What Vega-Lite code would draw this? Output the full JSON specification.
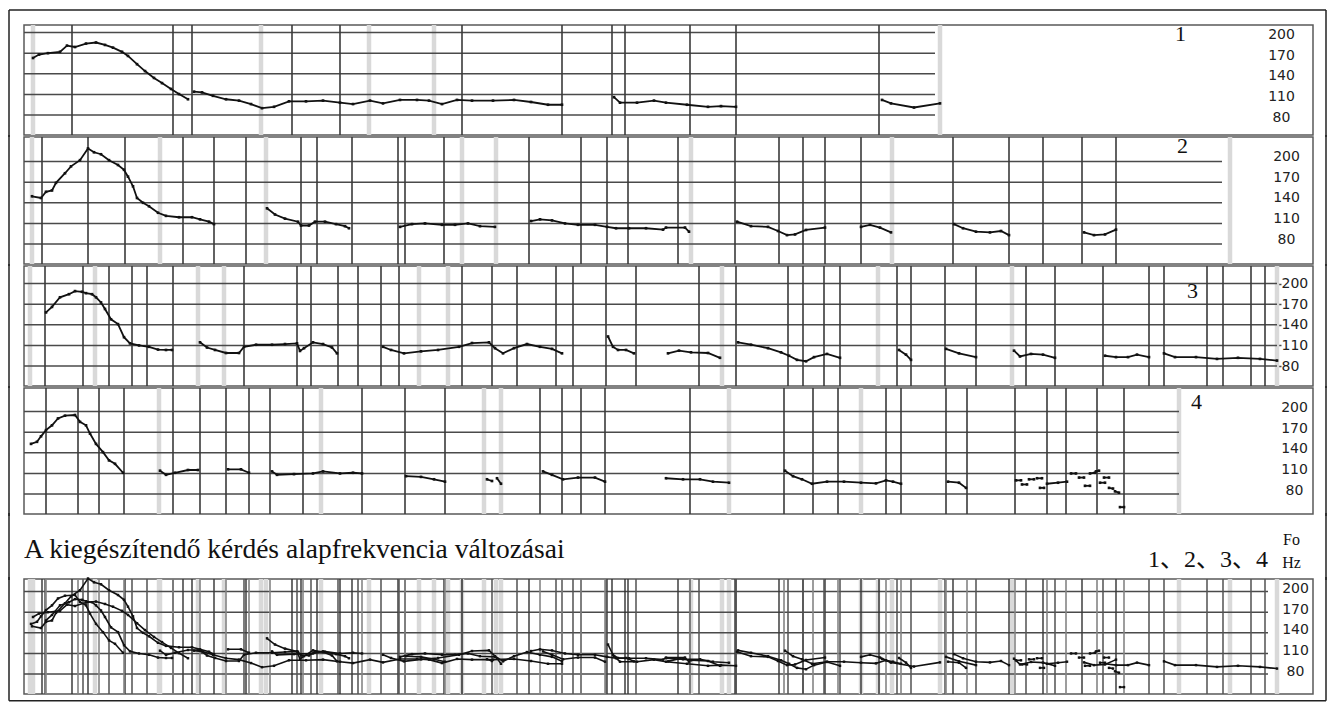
{
  "$schema": "https://vega.github.io/schema/vega-lite/v6.json",
  "background": "white",
  "padding": {"left": 7, "top": 8, "right": 0, "bottom": 0},
  "bounds": "flush",
  "spacing": 2,
  "config": {
    "view": {"stroke": "#5a5a5a", "strokeWidth": 1.5},
    "axis": {"domain": false, "grid": false, "ticks": false, "tickSize": 0, "tickCount": 10, "labelPadding": 0, "labelAlign": "center", "labelBaseline": "middle", "labelFont": "DejaVu Sans", "labelFontSize": 14, "labelColor": "#222", "labelOverlap": false, "titleFont": "Liberation Serif", "titleFontSize": 22, "titleFontWeight": "normal", "titleColor": "#111", "titleAngle": 0, "titleAlign": "center", "titleBaseline": "middle"}
  },
  "datasets": {
    "grid": [
      {"p": 1, "f": 80, "t0": 0, "t1": 911}, {"p": 1, "f": 110, "t0": 0, "t1": 911}, {"p": 1, "f": 140, "t0": 0, "t1": 911}, {"p": 1, "f": 170, "t0": 0, "t1": 911}, {"p": 1, "f": 200, "t0": 0, "t1": 911},
      {"p": 2, "f": 80, "t0": 0, "t1": 1198}, {"p": 2, "f": 110, "t0": 0, "t1": 1198}, {"p": 2, "f": 140, "t0": 0, "t1": 1198}, {"p": 2, "f": 170, "t0": 0, "t1": 1198}, {"p": 2, "f": 200, "t0": 0, "t1": 1198},
      {"p": 3, "f": 80, "t0": 0, "t1": 1253}, {"p": 3, "f": 110, "t0": 0, "t1": 1253}, {"p": 3, "f": 140, "t0": 0, "t1": 1253}, {"p": 3, "f": 170, "t0": 0, "t1": 1253}, {"p": 3, "f": 200, "t0": 0, "t1": 1253},
      {"p": 4, "f": 80, "t0": 0, "t1": 1155}, {"p": 4, "f": 110, "t0": 0, "t1": 1155}, {"p": 4, "f": 140, "t0": 0, "t1": 1155}, {"p": 4, "f": 170, "t0": 0, "t1": 1155}, {"p": 4, "f": 200, "t0": 0, "t1": 1155},
      {"p": 5, "f": 80, "t0": 0, "t1": 1244}, {"p": 5, "f": 110, "t0": 0, "t1": 1244}, {"p": 5, "f": 140, "t0": 0, "t1": 1244}, {"p": 5, "f": 170, "t0": 0, "t1": 1244}, {"p": 5, "f": 200, "t0": 0, "t1": 1244}
    ],
    "bounds": [
      {"p": 1, "k": "g", "t": 9}, {"p": 1, "k": "g", "t": 237}, {"p": 1, "k": "g", "t": 345}, {"p": 1, "k": "g", "t": 410}, {"p": 1, "k": "g", "t": 916},
      {"p": 1, "k": "b", "t": 48}, {"p": 1, "k": "b", "t": 149}, {"p": 1, "k": "b", "t": 168}, {"p": 1, "k": "b", "t": 268}, {"p": 1, "k": "b", "t": 316}, {"p": 1, "k": "b", "t": 438}, {"p": 1, "k": "b", "t": 538}, {"p": 1, "k": "b", "t": 588}, {"p": 1, "k": "b", "t": 601}, {"p": 1, "k": "b", "t": 666}, {"p": 1, "k": "b", "t": 712}, {"p": 1, "k": "b", "t": 855},
      {"p": 2, "k": "g", "t": 8}, {"p": 2, "k": "g", "t": 136}, {"p": 2, "k": "g", "t": 242}, {"p": 2, "k": "g", "t": 438}, {"p": 2, "k": "g", "t": 472}, {"p": 2, "k": "g", "t": 667}, {"p": 2, "k": "g", "t": 868}, {"p": 2, "k": "g", "t": 1206},
      {"p": 2, "k": "b", "t": 18}, {"p": 2, "k": "b", "t": 64}, {"p": 2, "k": "b", "t": 101}, {"p": 2, "k": "b", "t": 159}, {"p": 2, "k": "b", "t": 190}, {"p": 2, "k": "b", "t": 222}, {"p": 2, "k": "b", "t": 277}, {"p": 2, "k": "b", "t": 293}, {"p": 2, "k": "b", "t": 328}, {"p": 2, "k": "b", "t": 374}, {"p": 2, "k": "b", "t": 381}, {"p": 2, "k": "b", "t": 420}, {"p": 2, "k": "b", "t": 505}, {"p": 2, "k": "b", "t": 557}, {"p": 2, "k": "b", "t": 583}, {"p": 2, "k": "b", "t": 604}, {"p": 2, "k": "b", "t": 654}, {"p": 2, "k": "b", "t": 711}, {"p": 2, "k": "b", "t": 755}, {"p": 2, "k": "b", "t": 779}, {"p": 2, "k": "b", "t": 801}, {"p": 2, "k": "b", "t": 837}, {"p": 2, "k": "b", "t": 929}, {"p": 2, "k": "b", "t": 985}, {"p": 2, "k": "b", "t": 1019}, {"p": 2, "k": "b", "t": 1058}, {"p": 2, "k": "b", "t": 1092},
      {"p": 3, "k": "g", "t": 6}, {"p": 3, "k": "g", "t": 71}, {"p": 3, "k": "g", "t": 174}, {"p": 3, "k": "g", "t": 200}, {"p": 3, "k": "g", "t": 395}, {"p": 3, "k": "g", "t": 424}, {"p": 3, "k": "g", "t": 698}, {"p": 3, "k": "g", "t": 854}, {"p": 3, "k": "g", "t": 988}, {"p": 3, "k": "g", "t": 1253},
      {"p": 3, "k": "b", "t": 21}, {"p": 3, "k": "b", "t": 59}, {"p": 3, "k": "b", "t": 85}, {"p": 3, "k": "b", "t": 108}, {"p": 3, "k": "b", "t": 123}, {"p": 3, "k": "b", "t": 149}, {"p": 3, "k": "b", "t": 220}, {"p": 3, "k": "b", "t": 273}, {"p": 3, "k": "b", "t": 287}, {"p": 3, "k": "b", "t": 314}, {"p": 3, "k": "b", "t": 334}, {"p": 3, "k": "b", "t": 357}, {"p": 3, "k": "b", "t": 375}, {"p": 3, "k": "b", "t": 438}, {"p": 3, "k": "b", "t": 468}, {"p": 3, "k": "b", "t": 493}, {"p": 3, "k": "b", "t": 532}, {"p": 3, "k": "b", "t": 549}, {"p": 3, "k": "b", "t": 582}, {"p": 3, "k": "b", "t": 612}, {"p": 3, "k": "b", "t": 675}, {"p": 3, "k": "b", "t": 712}, {"p": 3, "k": "b", "t": 764}, {"p": 3, "k": "b", "t": 779}, {"p": 3, "k": "b", "t": 800}, {"p": 3, "k": "b", "t": 816}, {"p": 3, "k": "b", "t": 873}, {"p": 3, "k": "b", "t": 887}, {"p": 3, "k": "b", "t": 921}, {"p": 3, "k": "b", "t": 952}, {"p": 3, "k": "b", "t": 1002}, {"p": 3, "k": "b", "t": 1031}, {"p": 3, "k": "b", "t": 1079}, {"p": 3, "k": "b", "t": 1125}, {"p": 3, "k": "b", "t": 1140}, {"p": 3, "k": "b", "t": 1183}, {"p": 3, "k": "b", "t": 1199}, {"p": 3, "k": "b", "t": 1227}, {"p": 3, "k": "b", "t": 1241},
      {"p": 4, "k": "g", "t": 135}, {"p": 4, "k": "g", "t": 297}, {"p": 4, "k": "g", "t": 460}, {"p": 4, "k": "g", "t": 477}, {"p": 4, "k": "g", "t": 705}, {"p": 4, "k": "g", "t": 837}, {"p": 4, "k": "g", "t": 1155},
      {"p": 4, "k": "b", "t": 22}, {"p": 4, "k": "b", "t": 54}, {"p": 4, "k": "b", "t": 75}, {"p": 4, "k": "b", "t": 100}, {"p": 4, "k": "b", "t": 149}, {"p": 4, "k": "b", "t": 176}, {"p": 4, "k": "b", "t": 202}, {"p": 4, "k": "b", "t": 225}, {"p": 4, "k": "b", "t": 246}, {"p": 4, "k": "b", "t": 279}, {"p": 4, "k": "b", "t": 338}, {"p": 4, "k": "b", "t": 381}, {"p": 4, "k": "b", "t": 421}, {"p": 4, "k": "b", "t": 516}, {"p": 4, "k": "b", "t": 538}, {"p": 4, "k": "b", "t": 557}, {"p": 4, "k": "b", "t": 581}, {"p": 4, "k": "b", "t": 666}, {"p": 4, "k": "b", "t": 760}, {"p": 4, "k": "b", "t": 789}, {"p": 4, "k": "b", "t": 814}, {"p": 4, "k": "b", "t": 862}, {"p": 4, "k": "b", "t": 877}, {"p": 4, "k": "b", "t": 922}, {"p": 4, "k": "b", "t": 943}, {"p": 4, "k": "b", "t": 991}, {"p": 4, "k": "b", "t": 1023}, {"p": 4, "k": "b", "t": 1042}, {"p": 4, "k": "b", "t": 1073}, {"p": 4, "k": "b", "t": 1100}
    ],
    "contour": [
      {"p": 1, "s": "1a", "t": 9, "f": 163}, {"p": 1, "s": "1a", "t": 15, "f": 168}, {"p": 1, "s": "1a", "t": 24, "f": 170}, {"p": 1, "s": "1a", "t": 36, "f": 172}, {"p": 1, "s": "1a", "t": 43, "f": 181}, {"p": 1, "s": "1a", "t": 51, "f": 179}, {"p": 1, "s": "1a", "t": 62, "f": 184}, {"p": 1, "s": "1a", "t": 72, "f": 185.5}, {"p": 1, "s": "1a", "t": 81, "f": 182}, {"p": 1, "s": "1a", "t": 89, "f": 178}, {"p": 1, "s": "1a", "t": 98, "f": 172}, {"p": 1, "s": "1a", "t": 104, "f": 166}, {"p": 1, "s": "1a", "t": 113, "f": 154}, {"p": 1, "s": "1a", "t": 121, "f": 144}, {"p": 1, "s": "1a", "t": 130, "f": 134}, {"p": 1, "s": "1a", "t": 138, "f": 126.5}, {"p": 1, "s": "1a", "t": 147, "f": 118}, {"p": 1, "s": "1a", "t": 155, "f": 110.5}, {"p": 1, "s": "1a", "t": 164, "f": 103},
      {"p": 1, "s": "1b", "t": 170, "f": 114}, {"p": 1, "s": "1b", "t": 178, "f": 113}, {"p": 1, "s": "1b", "t": 189, "f": 108}, {"p": 1, "s": "1b", "t": 202, "f": 103}, {"p": 1, "s": "1b", "t": 215, "f": 101}, {"p": 1, "s": "1b", "t": 227, "f": 96}, {"p": 1, "s": "1b", "t": 238, "f": 90}, {"p": 1, "s": "1b", "t": 250, "f": 92}, {"p": 1, "s": "1b", "t": 265, "f": 100}, {"p": 1, "s": "1b", "t": 282, "f": 100}, {"p": 1, "s": "1b", "t": 299, "f": 101}, {"p": 1, "s": "1b", "t": 316, "f": 98}, {"p": 1, "s": "1b", "t": 329, "f": 96}, {"p": 1, "s": "1b", "t": 346, "f": 101}, {"p": 1, "s": "1b", "t": 359, "f": 97}, {"p": 1, "s": "1b", "t": 376, "f": 102}, {"p": 1, "s": "1b", "t": 393, "f": 102}, {"p": 1, "s": "1b", "t": 405, "f": 101}, {"p": 1, "s": "1b", "t": 418, "f": 96}, {"p": 1, "s": "1b", "t": 433, "f": 102}, {"p": 1, "s": "1b", "t": 448, "f": 101}, {"p": 1, "s": "1b", "t": 469, "f": 101}, {"p": 1, "s": "1b", "t": 490, "f": 102}, {"p": 1, "s": "1b", "t": 507, "f": 99}, {"p": 1, "s": "1b", "t": 524, "f": 95}, {"p": 1, "s": "1b", "t": 538, "f": 95},
      {"p": 1, "s": "1c", "t": 590, "f": 106}, {"p": 1, "s": "1c", "t": 596, "f": 98}, {"p": 1, "s": "1c", "t": 613, "f": 98}, {"p": 1, "s": "1c", "t": 630, "f": 101}, {"p": 1, "s": "1c", "t": 642, "f": 98}, {"p": 1, "s": "1c", "t": 663, "f": 95}, {"p": 1, "s": "1c", "t": 684, "f": 92}, {"p": 1, "s": "1c", "t": 697, "f": 93}, {"p": 1, "s": "1c", "t": 712, "f": 92},
      {"p": 1, "s": "1d", "t": 858, "f": 102}, {"p": 1, "s": "1d", "t": 867, "f": 97}, {"p": 1, "s": "1d", "t": 890, "f": 91}, {"p": 1, "s": "1d", "t": 916, "f": 97},
      {"p": 2, "s": "2a", "t": 8, "f": 149.5}, {"p": 2, "s": "2a", "t": 17, "f": 147}, {"p": 2, "s": "2a", "t": 22, "f": 156}, {"p": 2, "s": "2a", "t": 28, "f": 158}, {"p": 2, "s": "2a", "t": 32, "f": 169}, {"p": 2, "s": "2a", "t": 41, "f": 183}, {"p": 2, "s": "2a", "t": 47, "f": 193}, {"p": 2, "s": "2a", "t": 56, "f": 202}, {"p": 2, "s": "2a", "t": 64, "f": 219}, {"p": 2, "s": "2a", "t": 70, "f": 213.5}, {"p": 2, "s": "2a", "t": 77, "f": 210.6}, {"p": 2, "s": "2a", "t": 85, "f": 202}, {"p": 2, "s": "2a", "t": 94, "f": 195}, {"p": 2, "s": "2a", "t": 100, "f": 188}, {"p": 2, "s": "2a", "t": 104, "f": 178}, {"p": 2, "s": "2a", "t": 109, "f": 164}, {"p": 2, "s": "2a", "t": 113, "f": 147}, {"p": 2, "s": "2a", "t": 119, "f": 140}, {"p": 2, "s": "2a", "t": 125, "f": 135}, {"p": 2, "s": "2a", "t": 134, "f": 125.5}, {"p": 2, "s": "2a", "t": 142, "f": 121}, {"p": 2, "s": "2a", "t": 155, "f": 119}, {"p": 2, "s": "2a", "t": 168, "f": 119}, {"p": 2, "s": "2a", "t": 176, "f": 116}, {"p": 2, "s": "2a", "t": 185, "f": 112.5}, {"p": 2, "s": "2a", "t": 190, "f": 109},
      {"p": 2, "s": "2b", "t": 243, "f": 132}, {"p": 2, "s": "2b", "t": 251, "f": 123}, {"p": 2, "s": "2b", "t": 261, "f": 117}, {"p": 2, "s": "2b", "t": 274, "f": 112.5}, {"p": 2, "s": "2b", "t": 277, "f": 107}, {"p": 2, "s": "2b", "t": 285, "f": 107}, {"p": 2, "s": "2b", "t": 291, "f": 112.5}, {"p": 2, "s": "2b", "t": 301, "f": 112.5}, {"p": 2, "s": "2b", "t": 312, "f": 109}, {"p": 2, "s": "2b", "t": 321, "f": 106}, {"p": 2, "s": "2b", "t": 325, "f": 103},
      {"p": 2, "s": "2c", "t": 376, "f": 105}, {"p": 2, "s": "2c", "t": 388, "f": 109}, {"p": 2, "s": "2c", "t": 401, "f": 110}, {"p": 2, "s": "2c", "t": 418, "f": 108}, {"p": 2, "s": "2c", "t": 431, "f": 108}, {"p": 2, "s": "2c", "t": 444, "f": 110}, {"p": 2, "s": "2c", "t": 456, "f": 106}, {"p": 2, "s": "2c", "t": 471, "f": 105},
      {"p": 2, "s": "2d", "t": 507, "f": 113.5}, {"p": 2, "s": "2d", "t": 516, "f": 116}, {"p": 2, "s": "2d", "t": 528, "f": 114.4}, {"p": 2, "s": "2d", "t": 541, "f": 110}, {"p": 2, "s": "2d", "t": 554, "f": 108}, {"p": 2, "s": "2d", "t": 571, "f": 108}, {"p": 2, "s": "2d", "t": 583, "f": 105}, {"p": 2, "s": "2d", "t": 592, "f": 103}, {"p": 2, "s": "2d", "t": 605, "f": 103}, {"p": 2, "s": "2d", "t": 622, "f": 103}, {"p": 2, "s": "2d", "t": 639, "f": 101}, {"p": 2, "s": "2d", "t": 642, "f": 104}, {"p": 2, "s": "2d", "t": 661, "f": 104}, {"p": 2, "s": "2d", "t": 665, "f": 98},
      {"p": 2, "s": "2e", "t": 713, "f": 112.5}, {"p": 2, "s": "2e", "t": 727, "f": 106}, {"p": 2, "s": "2e", "t": 744, "f": 105}, {"p": 2, "s": "2e", "t": 754, "f": 99}, {"p": 2, "s": "2e", "t": 763, "f": 93}, {"p": 2, "s": "2e", "t": 771, "f": 94}, {"p": 2, "s": "2e", "t": 782, "f": 100.5}, {"p": 2, "s": "2e", "t": 801, "f": 104},
      {"p": 2, "s": "2f", "t": 837, "f": 105}, {"p": 2, "s": "2f", "t": 846, "f": 108}, {"p": 2, "s": "2f", "t": 856, "f": 104}, {"p": 2, "s": "2f", "t": 867, "f": 97},
      {"p": 2, "s": "2g", "t": 930, "f": 109}, {"p": 2, "s": "2g", "t": 939, "f": 103}, {"p": 2, "s": "2g", "t": 952, "f": 98}, {"p": 2, "s": "2g", "t": 966, "f": 97}, {"p": 2, "s": "2g", "t": 977, "f": 99}, {"p": 2, "s": "2g", "t": 985, "f": 93},
      {"p": 2, "s": "2h", "t": 1060, "f": 97}, {"p": 2, "s": "2h", "t": 1070, "f": 93}, {"p": 2, "s": "2h", "t": 1081, "f": 94}, {"p": 2, "s": "2h", "t": 1092, "f": 101},
      {"p": 3, "s": "3a", "t": 22, "f": 158}, {"p": 3, "s": "3a", "t": 28, "f": 166}, {"p": 3, "s": "3a", "t": 36, "f": 180}, {"p": 3, "s": "3a", "t": 45, "f": 184.5}, {"p": 3, "s": "3a", "t": 51, "f": 189}, {"p": 3, "s": "3a", "t": 58, "f": 188}, {"p": 3, "s": "3a", "t": 62, "f": 186}, {"p": 3, "s": "3a", "t": 68, "f": 184.5}, {"p": 3, "s": "3a", "t": 72, "f": 180}, {"p": 3, "s": "3a", "t": 77, "f": 172.5}, {"p": 3, "s": "3a", "t": 81, "f": 163}, {"p": 3, "s": "3a", "t": 87, "f": 148}, {"p": 3, "s": "3a", "t": 94, "f": 141}, {"p": 3, "s": "3a", "t": 100, "f": 122}, {"p": 3, "s": "3a", "t": 106, "f": 113}, {"p": 3, "s": "3a", "t": 115, "f": 110}, {"p": 3, "s": "3a", "t": 125, "f": 108}, {"p": 3, "s": "3a", "t": 134, "f": 104}, {"p": 3, "s": "3a", "t": 142, "f": 103.4}, {"p": 3, "s": "3a", "t": 148, "f": 103.4},
      {"p": 3, "s": "3b", "t": 176, "f": 114.5}, {"p": 3, "s": "3b", "t": 183, "f": 107}, {"p": 3, "s": "3b", "t": 191, "f": 103.4}, {"p": 3, "s": "3b", "t": 202, "f": 99}, {"p": 3, "s": "3b", "t": 215, "f": 99}, {"p": 3, "s": "3b", "t": 220, "f": 108}, {"p": 3, "s": "3b", "t": 232, "f": 111}, {"p": 3, "s": "3b", "t": 248, "f": 111}, {"p": 3, "s": "3b", "t": 261, "f": 112}, {"p": 3, "s": "3b", "t": 273, "f": 113}, {"p": 3, "s": "3b", "t": 276, "f": 102}, {"p": 3, "s": "3b", "t": 280, "f": 106}, {"p": 3, "s": "3b", "t": 289, "f": 114.5}, {"p": 3, "s": "3b", "t": 299, "f": 112}, {"p": 3, "s": "3b", "t": 308, "f": 107}, {"p": 3, "s": "3b", "t": 313, "f": 98.5},
      {"p": 3, "s": "3d", "t": 359, "f": 108}, {"p": 3, "s": "3d", "t": 367, "f": 103.4}, {"p": 3, "s": "3d", "t": 380, "f": 98.5}, {"p": 3, "s": "3d", "t": 397, "f": 101.4}, {"p": 3, "s": "3d", "t": 414, "f": 103.4}, {"p": 3, "s": "3d", "t": 435, "f": 108}, {"p": 3, "s": "3d", "t": 448, "f": 113.5}, {"p": 3, "s": "3d", "t": 465, "f": 114.5}, {"p": 3, "s": "3d", "t": 471, "f": 106}, {"p": 3, "s": "3d", "t": 479, "f": 98.5}, {"p": 3, "s": "3d", "t": 490, "f": 106}, {"p": 3, "s": "3d", "t": 503, "f": 112}, {"p": 3, "s": "3d", "t": 516, "f": 108}, {"p": 3, "s": "3d", "t": 528, "f": 105}, {"p": 3, "s": "3d", "t": 538, "f": 98.5},
      {"p": 3, "s": "3e", "t": 584, "f": 123}, {"p": 3, "s": "3e", "t": 589, "f": 108}, {"p": 3, "s": "3e", "t": 594, "f": 103.4}, {"p": 3, "s": "3e", "t": 602, "f": 103.4}, {"p": 3, "s": "3e", "t": 610, "f": 98.5},
      {"p": 3, "s": "3f", "t": 644, "f": 98.5}, {"p": 3, "s": "3f", "t": 655, "f": 102.4}, {"p": 3, "s": "3f", "t": 667, "f": 100}, {"p": 3, "s": "3f", "t": 684, "f": 99}, {"p": 3, "s": "3f", "t": 696, "f": 92},
      {"p": 3, "s": "3g", "t": 714, "f": 114.5}, {"p": 3, "s": "3g", "t": 727, "f": 111}, {"p": 3, "s": "3g", "t": 744, "f": 106}, {"p": 3, "s": "3g", "t": 757, "f": 100}, {"p": 3, "s": "3g", "t": 765, "f": 95}, {"p": 3, "s": "3g", "t": 773, "f": 89}, {"p": 3, "s": "3g", "t": 782, "f": 87}, {"p": 3, "s": "3g", "t": 790, "f": 93}, {"p": 3, "s": "3g", "t": 803, "f": 97.6}, {"p": 3, "s": "3g", "t": 816, "f": 92},
      {"p": 3, "s": "3h", "t": 875, "f": 103.4}, {"p": 3, "s": "3h", "t": 882, "f": 96.6}, {"p": 3, "s": "3h", "t": 887, "f": 89},
      {"p": 3, "s": "3i", "t": 922, "f": 105}, {"p": 3, "s": "3i", "t": 935, "f": 98.5}, {"p": 3, "s": "3i", "t": 952, "f": 93},
      {"p": 3, "s": "3j", "t": 990, "f": 102.4}, {"p": 3, "s": "3j", "t": 996, "f": 94}, {"p": 3, "s": "3j", "t": 1007, "f": 97.6}, {"p": 3, "s": "3j", "t": 1019, "f": 96.6}, {"p": 3, "s": "3j", "t": 1031, "f": 92},
      {"p": 3, "s": "3k", "t": 1081, "f": 95}, {"p": 3, "s": "3k", "t": 1092, "f": 93}, {"p": 3, "s": "3k", "t": 1104, "f": 93}, {"p": 3, "s": "3k", "t": 1113, "f": 96.6}, {"p": 3, "s": "3k", "t": 1125, "f": 93},
      {"p": 3, "s": "3l", "t": 1140, "f": 98.5}, {"p": 3, "s": "3l", "t": 1151, "f": 93}, {"p": 3, "s": "3l", "t": 1172, "f": 93}, {"p": 3, "s": "3l", "t": 1193, "f": 90.4}, {"p": 3, "s": "3l", "t": 1214, "f": 92}, {"p": 3, "s": "3l", "t": 1236, "f": 90.4}, {"p": 3, "s": "3l", "t": 1253, "f": 88},
      {"p": 4, "s": "4a", "t": 7, "f": 153}, {"p": 4, "s": "4a", "t": 13, "f": 156}, {"p": 4, "s": "4a", "t": 17, "f": 164}, {"p": 4, "s": "4a", "t": 22, "f": 173}, {"p": 4, "s": "4a", "t": 28, "f": 180}, {"p": 4, "s": "4a", "t": 34, "f": 190}, {"p": 4, "s": "4a", "t": 41, "f": 194}, {"p": 4, "s": "4a", "t": 51, "f": 195}, {"p": 4, "s": "4a", "t": 56, "f": 185}, {"p": 4, "s": "4a", "t": 62, "f": 180}, {"p": 4, "s": "4a", "t": 66, "f": 168}, {"p": 4, "s": "4a", "t": 72, "f": 153}, {"p": 4, "s": "4a", "t": 79, "f": 141}, {"p": 4, "s": "4a", "t": 85, "f": 129}, {"p": 4, "s": "4a", "t": 91, "f": 124}, {"p": 4, "s": "4a", "t": 99, "f": 111},
      {"p": 4, "s": "4b", "t": 136, "f": 114}, {"p": 4, "s": "4b", "t": 142, "f": 108}, {"p": 4, "s": "4b", "t": 151, "f": 111}, {"p": 4, "s": "4b", "t": 164, "f": 115}, {"p": 4, "s": "4b", "t": 174, "f": 115},
      {"p": 4, "s": "4c", "t": 204, "f": 116}, {"p": 4, "s": "4c", "t": 217, "f": 116}, {"p": 4, "s": "4c", "t": 225, "f": 111},
      {"p": 4, "s": "4d", "t": 248, "f": 113}, {"p": 4, "s": "4d", "t": 253, "f": 108}, {"p": 4, "s": "4d", "t": 270, "f": 109}, {"p": 4, "s": "4d", "t": 289, "f": 110}, {"p": 4, "s": "4d", "t": 299, "f": 113}, {"p": 4, "s": "4d", "t": 316, "f": 110}, {"p": 4, "s": "4d", "t": 329, "f": 111}, {"p": 4, "s": "4d", "t": 338, "f": 110},
      {"p": 4, "s": "4e", "t": 382, "f": 106}, {"p": 4, "s": "4e", "t": 397, "f": 105}, {"p": 4, "s": "4e", "t": 410, "f": 101.5}, {"p": 4, "s": "4e", "t": 421, "f": 98},
      {"p": 4, "s": "4f1", "t": 463, "f": 101.5}, {"p": 4, "s": "4f1", "t": 468, "f": 99}, {"p": 4, "s": "4f2", "t": 473, "f": 103}, {"p": 4, "s": "4f2", "t": 477, "f": 95},
      {"p": 4, "s": "4g", "t": 519, "f": 113}, {"p": 4, "s": "4g", "t": 528, "f": 108}, {"p": 4, "s": "4g", "t": 539, "f": 101.5}, {"p": 4, "s": "4g", "t": 554, "f": 104}, {"p": 4, "s": "4g", "t": 571, "f": 104}, {"p": 4, "s": "4g", "t": 581, "f": 98},
      {"p": 4, "s": "4h", "t": 642, "f": 103}, {"p": 4, "s": "4h", "t": 659, "f": 101.5}, {"p": 4, "s": "4h", "t": 676, "f": 101.5}, {"p": 4, "s": "4h", "t": 689, "f": 98}, {"p": 4, "s": "4h", "t": 705, "f": 96.5},
      {"p": 4, "s": "4i", "t": 761, "f": 114}, {"p": 4, "s": "4i", "t": 769, "f": 106}, {"p": 4, "s": "4i", "t": 778, "f": 101.5}, {"p": 4, "s": "4i", "t": 788, "f": 95}, {"p": 4, "s": "4i", "t": 803, "f": 98}, {"p": 4, "s": "4i", "t": 820, "f": 98}, {"p": 4, "s": "4i", "t": 837, "f": 96.5}, {"p": 4, "s": "4i", "t": 852, "f": 95.6}, {"p": 4, "s": "4i", "t": 862, "f": 100}, {"p": 4, "s": "4i", "t": 869, "f": 98}, {"p": 4, "s": "4i", "t": 877, "f": 95},
      {"p": 4, "s": "4j", "t": 924, "f": 98}, {"p": 4, "s": "4j", "t": 935, "f": 96.5}, {"p": 4, "s": "4j", "t": 942, "f": 89},
      {"p": 4, "s": "4k1", "t": 992, "f": 100}, {"p": 4, "s": "4k1", "t": 997, "f": 100},
      {"p": 4, "s": "4k2", "t": 998, "f": 94}, {"p": 4, "s": "4k2", "t": 1003, "f": 94},
      {"p": 4, "s": "4k3", "t": 1005, "f": 101.5}, {"p": 4, "s": "4k3", "t": 1010, "f": 101.5},
      {"p": 4, "s": "4k4", "t": 1013, "f": 103}, {"p": 4, "s": "4k4", "t": 1018, "f": 103},
      {"p": 4, "s": "4k5", "t": 1016, "f": 89}, {"p": 4, "s": "4k5", "t": 1020, "f": 89},
      {"p": 4, "s": "4k6", "t": 1023, "f": 95}, {"p": 4, "s": "4k6", "t": 1034, "f": 96.5}, {"p": 4, "s": "4k6", "t": 1043, "f": 98},
      {"p": 4, "s": "4k7", "t": 1047, "f": 110}, {"p": 4, "s": "4k7", "t": 1052, "f": 110},
      {"p": 4, "s": "4k8", "t": 1055, "f": 104}, {"p": 4, "s": "4k8", "t": 1060, "f": 104},
      {"p": 4, "s": "4k9", "t": 1061, "f": 92}, {"p": 4, "s": "4k9", "t": 1066, "f": 92},
      {"p": 4, "s": "4k10", "t": 1066, "f": 110}, {"p": 4, "s": "4k10", "t": 1071, "f": 111},
      {"p": 4, "s": "4k11", "t": 1072, "f": 113}, {"p": 4, "s": "4k11", "t": 1075, "f": 114},
      {"p": 4, "s": "4k12", "t": 1076, "f": 96.5}, {"p": 4, "s": "4k12", "t": 1081, "f": 96.5},
      {"p": 4, "s": "4k13", "t": 1080, "f": 104}, {"p": 4, "s": "4k13", "t": 1085, "f": 104},
      {"p": 4, "s": "4k14", "t": 1085, "f": 89}, {"p": 4, "s": "4k14", "t": 1089, "f": 88},
      {"p": 4, "s": "4k15", "t": 1091, "f": 84}, {"p": 4, "s": "4k15", "t": 1095, "f": 82},
      {"p": 4, "s": "4k16", "t": 1096, "f": 61}, {"p": 4, "s": "4k16", "t": 1100, "f": 61}
    ],
    "notes": [
      {"kind": "cap", "t": 0, "label": "A kiegészítendő kérdés alapfrekvencia változásai"},
      {"kind": "ids", "t": 1244, "label": "1、2、3、4"}
    ]
  },
  "vconcat": [
    {
      "width": 1289, "height": 110,
      "layer": [
        {"data": {"name": "bounds"}, "transform": [{"filter": "datum.p == 1 && datum.k == 'g'"}], "mark": {"type": "rule", "color": "#d9d9d9", "strokeWidth": 4.5}, "encoding": {"x": {"field": "t", "type": "quantitative", "scale": {"domain": [0, 1289], "nice": false, "zero": false}, "axis": null}}},
        {"data": {"name": "grid"}, "transform": [{"filter": "datum.p == 1"}], "mark": {"type": "rule", "color": "#4a4a4a", "strokeWidth": 1.5}, "encoding": {"x": {"field": "t0", "type": "quantitative", "axis": null}, "x2": {"field": "t1"}, "y": {"field": "f", "type": "quantitative", "scale": {"domain": [51, 211], "nice": false, "zero": false}, "axis": {"values": [80, 110, 140, 170, 200], "tickCount": 10, "orient": "right", "offset": -32, "labelOffset": 2, "labelOverlap": false, "title": "1", "titleX": -101, "titleY": 8}}}},
        {"data": {"name": "bounds"}, "transform": [{"filter": "datum.p == 1 && datum.k == 'b'"}], "mark": {"type": "rule", "color": "#3a3a3a", "strokeWidth": 1.6}, "encoding": {"x": {"field": "t", "type": "quantitative", "axis": null}}},
        {"data": {"name": "contour"}, "transform": [{"filter": "datum.p == 1"}], "mark": {"type": "line", "color": "#111", "strokeWidth": 1.8}, "encoding": {"x": {"field": "t", "type": "quantitative", "axis": null}, "y": {"field": "f", "type": "quantitative"}, "detail": {"field": "s"}}},
        {"data": {"name": "contour"}, "transform": [{"filter": "datum.p == 1"}], "mark": {"type": "square", "color": "#111", "size": 7, "opacity": 1}, "encoding": {"x": {"field": "t", "type": "quantitative", "axis": null}, "y": {"field": "f", "type": "quantitative"}}},
        {"data": {"values": [{}]}, "mark": {"type": "rule", "color": "#222", "strokeWidth": 1.5, "clip": false}, "encoding": {"x": {"datum": -15, "type": "quantitative"}, "y": {"datum": 233, "type": "quantitative"}, "y2": {"datum": 48}}},
        {"data": {"values": [{}]}, "mark": {"type": "rule", "color": "#222", "strokeWidth": 1.5, "clip": false}, "encoding": {"x": {"datum": 1302, "type": "quantitative"}, "y": {"datum": 233, "type": "quantitative"}, "y2": {"datum": 48}}},
        {"data": {"values": [{}]}, "mark": {"type": "rule", "color": "#222", "strokeWidth": 1.5, "clip": false}, "encoding": {"x": {"datum": -15, "type": "quantitative"}, "x2": {"datum": 1302}, "y": {"datum": 233, "type": "quantitative"}}}
      ]
    },
    {
      "width": 1289, "height": 127,
      "layer": [
        {"data": {"name": "bounds"}, "transform": [{"filter": "datum.p == 2 && datum.k == 'g'"}], "mark": {"type": "rule", "color": "#d9d9d9", "strokeWidth": 4.5}, "encoding": {"x": {"field": "t", "type": "quantitative", "scale": {"domain": [0, 1289], "nice": false, "zero": false}, "axis": null}}},
        {"data": {"name": "grid"}, "transform": [{"filter": "datum.p == 2"}], "mark": {"type": "rule", "color": "#4a4a4a", "strokeWidth": 1.5}, "encoding": {"x": {"field": "t0", "type": "quantitative", "axis": null}, "x2": {"field": "t1"}, "y": {"field": "f", "type": "quantitative", "scale": {"domain": [51, 235.7], "nice": false, "zero": false}, "axis": {"values": [80, 110, 140, 170, 200], "tickCount": 10, "orient": "right", "offset": -27, "labelOffset": -5, "labelOverlap": false, "title": "2", "titleX": -104, "titleY": 8}}}},
        {"data": {"name": "bounds"}, "transform": [{"filter": "datum.p == 2 && datum.k == 'b'"}], "mark": {"type": "rule", "color": "#3a3a3a", "strokeWidth": 1.6}, "encoding": {"x": {"field": "t", "type": "quantitative", "axis": null}}},
        {"data": {"name": "contour"}, "transform": [{"filter": "datum.p == 2"}], "mark": {"type": "line", "color": "#111", "strokeWidth": 1.8}, "encoding": {"x": {"field": "t", "type": "quantitative", "axis": null}, "y": {"field": "f", "type": "quantitative"}, "detail": {"field": "s"}}},
        {"data": {"name": "contour"}, "transform": [{"filter": "datum.p == 2"}], "mark": {"type": "square", "color": "#111", "size": 7, "opacity": 1}, "encoding": {"x": {"field": "t", "type": "quantitative", "axis": null}, "y": {"field": "f", "type": "quantitative"}}},
        {"data": {"values": [{}]}, "mark": {"type": "rule", "color": "#222", "strokeWidth": 1.5, "clip": false}, "encoding": {"x": {"datum": -15, "type": "quantitative"}, "y": {"datum": 238.6, "type": "quantitative"}, "y2": {"datum": 48}}},
        {"data": {"values": [{}]}, "mark": {"type": "rule", "color": "#222", "strokeWidth": 1.5, "clip": false}, "encoding": {"x": {"datum": 1302, "type": "quantitative"}, "y": {"datum": 238.6, "type": "quantitative"}, "y2": {"datum": 48}}}
      ]
    },
    {
      "width": 1289, "height": 120,
      "layer": [
        {"data": {"name": "bounds"}, "transform": [{"filter": "datum.p == 3 && datum.k == 'g'"}], "mark": {"type": "rule", "color": "#d9d9d9", "strokeWidth": 4.5}, "encoding": {"x": {"field": "t", "type": "quantitative", "scale": {"domain": [0, 1289], "nice": false, "zero": false}, "axis": null}}},
        {"data": {"name": "grid"}, "transform": [{"filter": "datum.p == 3"}], "mark": {"type": "rule", "color": "#4a4a4a", "strokeWidth": 1.5}, "encoding": {"x": {"field": "t0", "type": "quantitative", "axis": null}, "x2": {"field": "t1"}, "y": {"field": "f", "type": "quantitative", "scale": {"domain": [51, 225.5], "nice": false, "zero": false}, "axis": {"values": [80, 110, 140, 170, 200], "tickCount": 10, "orient": "right", "offset": -36, "ticks": true, "tickSize": 4, "tickColor": "#4a4a4a", "tickWidth": 1.5, "labelAlign": "left", "labelPadding": 0, "labelOffset": 0, "labelOverlap": false, "title": "3", "titleX": -85, "titleY": 24}}}},
        {"data": {"name": "bounds"}, "transform": [{"filter": "datum.p == 3 && datum.k == 'b'"}], "mark": {"type": "rule", "color": "#3a3a3a", "strokeWidth": 1.6}, "encoding": {"x": {"field": "t", "type": "quantitative", "axis": null}}},
        {"data": {"name": "contour"}, "transform": [{"filter": "datum.p == 3"}], "mark": {"type": "line", "color": "#111", "strokeWidth": 1.8}, "encoding": {"x": {"field": "t", "type": "quantitative", "axis": null}, "y": {"field": "f", "type": "quantitative"}, "detail": {"field": "s"}}},
        {"data": {"name": "contour"}, "transform": [{"filter": "datum.p == 3"}], "mark": {"type": "square", "color": "#111", "size": 7, "opacity": 1}, "encoding": {"x": {"field": "t", "type": "quantitative", "axis": null}, "y": {"field": "f", "type": "quantitative"}}},
        {"data": {"values": [{}]}, "mark": {"type": "rule", "color": "#222", "strokeWidth": 1.5, "clip": false}, "encoding": {"x": {"datum": -15, "type": "quantitative"}, "y": {"datum": 228.4, "type": "quantitative"}, "y2": {"datum": 48}}},
        {"data": {"values": [{}]}, "mark": {"type": "rule", "color": "#222", "strokeWidth": 1.5, "clip": false}, "encoding": {"x": {"datum": 1302, "type": "quantitative"}, "y": {"datum": 228.4, "type": "quantitative"}, "y2": {"datum": 48}}}
      ]
    },
    {
      "width": 1289, "height": 126,
      "layer": [
        {"data": {"name": "bounds"}, "transform": [{"filter": "datum.p == 4 && datum.k == 'g'"}], "mark": {"type": "rule", "color": "#d9d9d9", "strokeWidth": 4.5}, "encoding": {"x": {"field": "t", "type": "quantitative", "scale": {"domain": [0, 1289], "nice": false, "zero": false}, "axis": null}}},
        {"data": {"name": "grid"}, "transform": [{"filter": "datum.p == 4"}], "mark": {"type": "rule", "color": "#4a4a4a", "strokeWidth": 1.5}, "encoding": {"x": {"field": "t0", "type": "quantitative", "axis": null}, "x2": {"field": "t1"}, "y": {"field": "f", "type": "quantitative", "scale": {"domain": [51, 234.3], "nice": false, "zero": false}, "axis": {"values": [80, 110, 140, 170, 200], "tickCount": 10, "orient": "right", "offset": -19, "labelOffset": -4, "labelOverlap": false, "title": "4", "titleX": -98, "titleY": 13}}}},
        {"data": {"name": "bounds"}, "transform": [{"filter": "datum.p == 4 && datum.k == 'b'"}], "mark": {"type": "rule", "color": "#3a3a3a", "strokeWidth": 1.6}, "encoding": {"x": {"field": "t", "type": "quantitative", "axis": null}}},
        {"data": {"name": "contour"}, "transform": [{"filter": "datum.p == 4"}], "mark": {"type": "line", "color": "#111", "strokeWidth": 1.8}, "encoding": {"x": {"field": "t", "type": "quantitative", "axis": null}, "y": {"field": "f", "type": "quantitative"}, "detail": {"field": "s"}}},
        {"data": {"name": "contour"}, "transform": [{"filter": "datum.p == 4"}], "mark": {"type": "square", "color": "#111", "size": 7, "opacity": 1}, "encoding": {"x": {"field": "t", "type": "quantitative", "axis": null}, "y": {"field": "f", "type": "quantitative"}}},
        {"data": {"values": [{}]}, "mark": {"type": "rule", "color": "#222", "strokeWidth": 1.5, "clip": false}, "encoding": {"x": {"datum": -15, "type": "quantitative"}, "y": {"datum": 237.2, "type": "quantitative"}, "y2": {"datum": 48}}},
        {"data": {"values": [{}]}, "mark": {"type": "rule", "color": "#222", "strokeWidth": 1.5, "clip": false}, "encoding": {"x": {"datum": 1302, "type": "quantitative"}, "y": {"datum": 237.2, "type": "quantitative"}, "y2": {"datum": 48}}}
      ]
    },
    {
      "width": 1289, "height": 61,
      "view": {"stroke": null},
      "layer": [
        {"data": {"name": "notes"}, "transform": [{"filter": "datum.kind == 'cap'"}], "mark": {"type": "text", "align": "left", "baseline": "middle", "font": "Liberation Serif", "fontSize": 27.5, "dy": 3, "color": "#111"}, "encoding": {"x": {"field": "t", "type": "quantitative", "scale": {"domain": [0, 1289], "nice": false, "zero": false}, "axis": null}, "text": {"field": "label"}}},
        {"data": {"name": "notes"}, "transform": [{"filter": "datum.kind == 'ids'"}], "mark": {"type": "text", "align": "right", "baseline": "middle", "font": "Liberation Serif, Noto Sans CJK SC", "fontSize": 24, "dy": 13, "color": "#111"}, "encoding": {"x": {"field": "t", "type": "quantitative", "axis": null}, "text": {"field": "label"}}},
        {"data": {"values": [{}]}, "mark": {"type": "rule", "color": "#222", "strokeWidth": 1.5, "clip": false}, "encoding": {"x": {"datum": -15, "type": "quantitative", "axis": null}, "y": {"datum": 1.05, "type": "quantitative", "scale": {"domain": [0, 1], "nice": false, "zero": false}, "axis": null}, "y2": {"datum": -0.05}}},
        {"data": {"values": [{}]}, "mark": {"type": "rule", "color": "#222", "strokeWidth": 1.5, "clip": false}, "encoding": {"x": {"datum": 1302, "type": "quantitative", "axis": null}, "y": {"datum": 1.05, "type": "quantitative", "axis": null}, "y2": {"datum": -0.05}}}
      ]
    },
    {
      "width": 1289, "height": 115,
      "layer": [
        {"data": {"name": "bounds"}, "transform": [{"filter": "datum.k == 'g'"}], "mark": {"type": "rule", "color": "#d9d9d9", "strokeWidth": 4.5}, "encoding": {"x": {"field": "t", "type": "quantitative", "scale": {"domain": [0, 1289], "nice": false, "zero": false}, "axis": null}}},
        {"data": {"name": "grid"}, "transform": [{"filter": "datum.p == 5"}], "mark": {"type": "rule", "color": "#4a4a4a", "strokeWidth": 1.5}, "encoding": {"x": {"field": "t0", "type": "quantitative", "axis": null}, "x2": {"field": "t1"}, "y": {"field": "f", "type": "quantitative", "scale": {"domain": [51, 218.3], "nice": false, "zero": false}, "axis": {"values": [80, 110, 140, 170, 200], "tickCount": 10, "orient": "right", "offset": -18, "labelOffset": -3, "labelOverlap": false, "title": ["Fo", "Hz"], "titleFontSize": 16, "titleLineHeight": 23, "titleX": -4, "titleY": -40}}}},
        {"data": {"name": "bounds"}, "transform": [{"filter": "datum.k == 'b'"}], "mark": {"type": "rule"}, "encoding": {"x": {"field": "t", "type": "quantitative", "axis": null}, "color": {"field": "p", "type": "ordinal", "scale": {"domain": [1, 2, 3, 4], "range": ["#2e2e2e", "#3a3a3a", "#555555", "#858585"]}, "legend": null}, "strokeWidth": {"field": "p", "type": "ordinal", "scale": {"domain": [1, 2, 3, 4], "range": [1.4, 1.6, 2.2, 3.5]}, "legend": null}}},
        {"data": {"name": "contour"}, "mark": {"type": "line", "color": "#111", "strokeWidth": 1.6}, "encoding": {"x": {"field": "t", "type": "quantitative", "axis": null}, "y": {"field": "f", "type": "quantitative"}, "detail": {"field": "s"}}},
        {"data": {"name": "contour"}, "mark": {"type": "square", "color": "#111", "size": 6, "opacity": 1}, "encoding": {"x": {"field": "t", "type": "quantitative", "axis": null}, "y": {"field": "f", "type": "quantitative"}}},
        {"data": {"values": [{}]}, "mark": {"type": "rule", "color": "#222", "strokeWidth": 1.5, "clip": false}, "encoding": {"x": {"datum": -15, "type": "quantitative"}, "y": {"datum": 221.2, "type": "quantitative"}, "y2": {"datum": 41}}},
        {"data": {"values": [{}]}, "mark": {"type": "rule", "color": "#222", "strokeWidth": 1.5, "clip": false}, "encoding": {"x": {"datum": 1302, "type": "quantitative"}, "y": {"datum": 221.2, "type": "quantitative"}, "y2": {"datum": 41}}},
        {"data": {"values": [{}]}, "mark": {"type": "rule", "color": "#222", "strokeWidth": 1.5, "clip": false}, "encoding": {"x": {"datum": -15, "type": "quantitative"}, "x2": {"datum": 1302}, "y": {"datum": 41, "type": "quantitative"}}}
      ]
    }
  ]
}
